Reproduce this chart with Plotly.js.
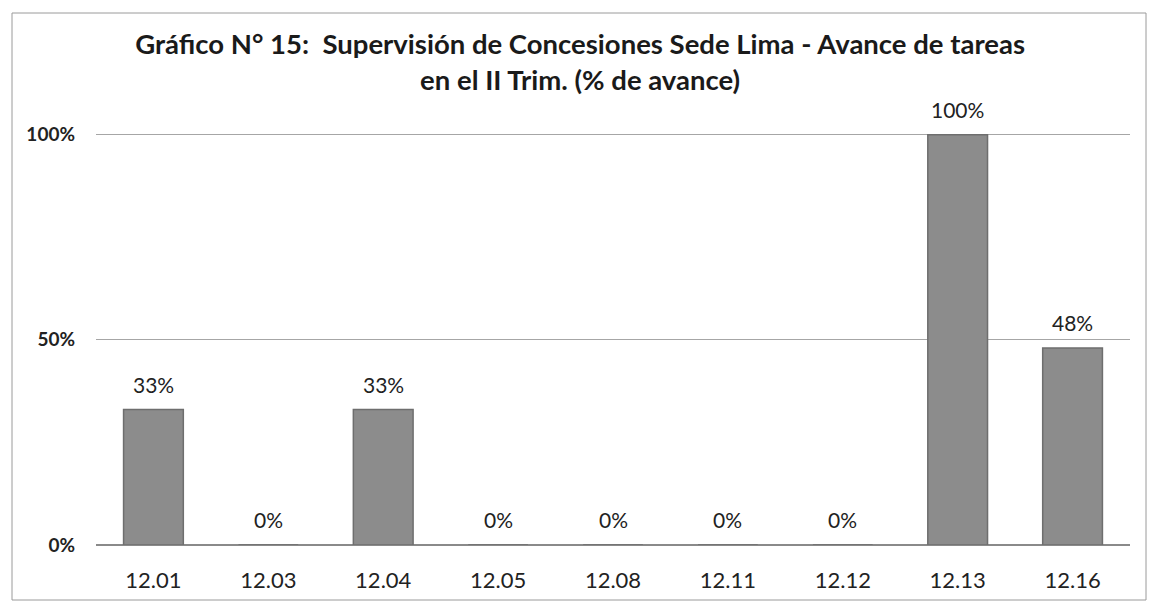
<!DOCTYPE html>
<html>
<head>
<meta charset="utf-8">
<script src="https://cdn.plot.ly/plotly-3.0.1.min.js"></script>
<style>html,body{margin:0;padding:0;background:#fff;}#chart{width:1151px;height:602px;}</style>
</head>
<body>
<div id="chart"></div>
<script>
const categories = ["12.01", "12.03", "12.04", "12.05", "12.08", "12.11", "12.12", "12.13", "12.16"];
const avance = [33, 0, 33, 0, 0, 0, 0, 100, 48];
const valueLabels = ["33%", "0%", "33%", "0%", "0%", "0%", "0%", "100%", "48%"];
const yTickValues = [0, 50, 100];
const yTickLabels = ["0%", "50%", "100%"];
const titleText = "Gráfico N° 15:  Supervisión de Concesiones Sede Lima - Avance de tareas<br>en el II Trim. (% de avance)";

const FONT = "Lato, 'Open Sans', sans-serif";

const trace = {
  type: "bar",
  x: categories,
  y: avance,
  marker: { color: "#8c8c8c", line: { color: "#6e6e6e", width: 1.5 } },
  width: 0.52,
  hoverinfo: "x+y"
};

const annotations = categories.map((c, i) => ({
  x: i, y: avance[i], xref: "x", yref: "y",
  text: valueLabels[i], showarrow: false,
  yanchor: "bottom", yshift: 11,
  font: { family: FONT, size: 21, color: "#222" }
}));

const layout = {
  width: 1151, height: 602,
  margin: { l: 96, r: 21, t: 133, b: 57 },
  paper_bgcolor: "#ffffff",
  plot_bgcolor: "#ffffff",
  showlegend: false,
  title: {
    text: titleText,
    font: { family: FONT, size: 27.5, color: "#1a1a1a", weight: "bold" },
    x: 0.504, xanchor: "center",
    y: 0.91, yanchor: "top"
  },
  xaxis: {
    type: "category",
    range: [-0.5, categories.length - 0.5],
    showgrid: false,
    showline: false,
    zeroline: false,
    ticks: "",
    ticklabelstandoff: 20,
    tickfont: { family: FONT, size: 22, color: "#222" }
  },
  yaxis: {
    range: [0, 100.4],
    tickvals: yTickValues,
    ticktext: yTickLabels,
    showgrid: true,
    gridcolor: "#a6a6a6",
    gridwidth: 1,
    zeroline: true,
    zerolinecolor: "#8a8a8a",
    zerolinewidth: 2,
    showline: false,
    ticks: "",
    ticklabelstandoff: 20,
    tickfont: { family: FONT, size: 19, color: "#222", weight: "bold" }
  },
  annotations: annotations,
  shapes: [{
    type: "rect", layer: "below",
    xref: "paper", yref: "paper",
    x0: (12 - 96) / 1034, x1: (1146 - 96) / 1034,
    y0: (602 - 57 - 600) / 412, y1: (602 - 57 - 13) / 412,
    line: { color: "#9a9a9a", width: 1 }, fillcolor: "rgba(0,0,0,0)"
  }]
};

Plotly.newPlot("chart", [trace], layout, { displayModeBar: false, staticPlot: true });
</script>
</body>
</html>
